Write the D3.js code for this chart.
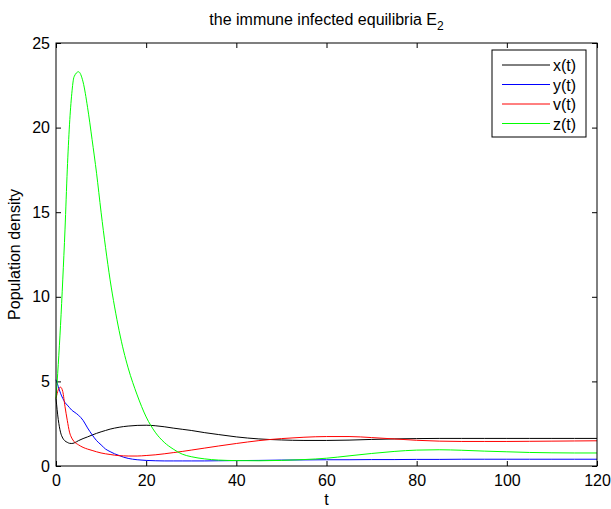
<!DOCTYPE html>
<html>
<head>
<meta charset="utf-8">
<script src="https://cdn.jsdelivr.net/npm/d3@7"></script>
<style>
  body { margin: 0; background: #fff; }
  svg { font-family: "Liberation Sans", Arial, Helvetica, sans-serif; }
  .axis path { display: none; }
  .axis line { stroke: #000; }
  .axis text { font-size: 16px; fill: #000; }
</style>
</head>
<body>
<div class="chart"></div>
<script>
const WIDTH = 611;
const HEIGHT = 509;

const LEFT = 56, RIGHT = 597, TOP = 43, BOTTOM = 466;

// time points
var tValues = [0, 0.5, 1, 1.5, 2, 2.5, 3, 3.5, 4, 5, 6, 7, 8, 9, 10, 11, 12, 13, 14, 15, 16, 18, 20,
  22, 24, 26, 28, 30, 33, 36, 40, 45, 50, 55, 60, 65, 70, 75, 80, 85, 90, 95, 100, 105, 110, 115, 120];

var xSeries = [4.0, 2.75, 2.0, 1.65, 1.48, 1.4, 1.34, 1.33, 1.36, 1.5, 1.62, 1.72, 1.83, 1.93, 2.02, 2.1, 2.18, 2.24, 2.29, 2.33, 2.36, 2.4, 2.41,
  2.38, 2.32, 2.24, 2.17, 2.1, 1.97, 1.86, 1.72, 1.6, 1.54, 1.51, 1.51, 1.53, 1.57, 1.6, 1.62, 1.63, 1.63, 1.63, 1.63, 1.63, 1.63, 1.63, 1.63];

var ySeries = [5.1, 4.7, 4.3, 4.0, 3.75, 3.6, 3.45, 3.3, 3.2, 3.0, 2.7, 2.25, 1.85, 1.5, 1.25, 1.0, 0.85, 0.72, 0.62, 0.52, 0.45, 0.37, 0.33,
  0.31, 0.3, 0.3, 0.3, 0.3, 0.3, 0.31, 0.32, 0.33, 0.35, 0.36, 0.37, 0.37, 0.38, 0.38, 0.39, 0.39, 0.4, 0.4, 0.4, 0.4, 0.4, 0.4, 0.4];

var vSeries = [4.0, 4.5, 4.66, 4.4, 3.5, 2.7, 2.0, 1.65, 1.45, 1.25, 1.1, 1.0, 0.92, 0.84, 0.77, 0.72, 0.68, 0.64, 0.61, 0.6, 0.59, 0.59, 0.62,
  0.66, 0.72, 0.79, 0.86, 0.94, 1.06, 1.18, 1.33, 1.5, 1.62, 1.7, 1.74, 1.74, 1.68, 1.6, 1.52, 1.47, 1.45, 1.45, 1.45, 1.46, 1.47, 1.48, 1.49];

var zSeries = [4.0, 6.0, 8.3, 11.0, 14.0, 17.5, 20.2, 22.0, 23.0, 23.3, 22.7, 21.2, 19.3, 17.3, 15.0, 12.9, 11.0, 9.4, 8.0, 6.8, 5.8, 4.2, 2.9,
  2.0, 1.4, 1.0, 0.7, 0.55, 0.42, 0.35, 0.32, 0.31, 0.33, 0.38, 0.46, 0.6, 0.74, 0.86, 0.94, 0.96, 0.93, 0.88, 0.84, 0.8, 0.78, 0.77, 0.77];

var seriesNames = ['x(t)', 'y(t)', 'v(t)', 'z(t)'];
var seriesColors = ['#000000', '#0000ff', '#ff0000', '#00ff00'];
var seriesValues = [xSeries, ySeries, vSeries, zSeries];

var xTicks = [0, 20, 40, 60, 80, 100, 120];
var yTicks = [0, 5, 10, 15, 20, 25];

var translate = function (x, y) {
    return "translate(" + x + "," + y + ")";
};

var svg = d3.select('.chart').append('svg')
    .attr('width', WIDTH)
    .attr('height', HEIGHT);

var xScale = d3.scaleLinear().domain([0, 120]).range([LEFT, RIGHT]);
var yScale = d3.scaleLinear().domain([0, 25]).range([BOTTOM, TOP]);

// axes, ticks pointing inwards on all four sides
svg.append('g').attr('class', 'axis')
    .attr('transform', translate(0, BOTTOM))
    .call(d3.axisBottom(xScale).tickValues(xTicks).tickSizeInner(-5).tickSizeOuter(0).tickPadding(9));

svg.append('g').attr('class', 'axis')
    .attr('transform', translate(LEFT, 0))
    .call(d3.axisLeft(yScale).tickValues(yTicks).tickSizeInner(-5).tickSizeOuter(0).tickPadding(6));

svg.append('g').attr('class', 'axis')
    .attr('transform', translate(0, TOP))
    .call(d3.axisTop(xScale).tickValues(xTicks).tickSizeInner(-5).tickSizeOuter(0).tickFormat(''));

svg.append('g').attr('class', 'axis')
    .attr('transform', translate(RIGHT, 0))
    .call(d3.axisRight(yScale).tickValues(yTicks).tickSizeInner(-5).tickSizeOuter(0).tickFormat(''));

var plot = svg.append('g');

var line = d3.line()
    .x(function (d) { return xScale(d[0]); })
    .y(function (d) { return yScale(d[1]); })
    .curve(d3.curveMonotoneX);

seriesValues.forEach(function (vals, i) {
    var pts = tValues.map(function (t, j) { return [t, vals[j]]; });
    plot.append('path')
        .attr('d', line(pts))
        .attr('fill', 'none')
        .attr('stroke', seriesColors[i])
        .attr('stroke-width', 1);
});

// box
svg.append('rect')
    .attr('x', LEFT).attr('y', TOP)
    .attr('width', RIGHT - LEFT).attr('height', BOTTOM - TOP)
    .attr('fill', 'none').attr('stroke', '#000').attr('stroke-width', 1);

// title
var title = svg.append('text')
    .attr('x', (LEFT + RIGHT) / 2).attr('y', 25)
    .attr('text-anchor', 'middle')
    .style('font-size', '16px');
title.append('tspan').text('the immune infected equilibria E');
title.append('tspan').attr('dy', 5).style('font-size', '12px').text('2');

// axis labels
svg.append('text')
    .attr('x', (LEFT + RIGHT) / 2).attr('y', 505)
    .attr('text-anchor', 'middle')
    .style('font-size', '16px')
    .text('t');

svg.append('text')
    .attr('transform', translate(19.5, (TOP + BOTTOM) / 2) + ' rotate(-90)')
    .attr('text-anchor', 'middle')
    .style('font-size', '16px')
    .text('Population density');

// legend
var legend = svg.append('g').attr('transform', translate(492, 50));
legend.append('rect')
    .attr('width', 94).attr('height', 87)
    .attr('fill', '#fff').attr('stroke', '#000').attr('stroke-width', 1);

seriesNames.forEach(function (name, i) {
    var y = 15 + i * 19.5;
    legend.append('line')
        .attr('x1', 10).attr('x2', 58)
        .attr('y1', y).attr('y2', y)
        .attr('stroke', seriesColors[i]);
    legend.append('text')
        .attr('x', 61).attr('y', y + 6)
        .style('font-size', '16px')
        .text(name);
});
</script>
</body>
</html>
